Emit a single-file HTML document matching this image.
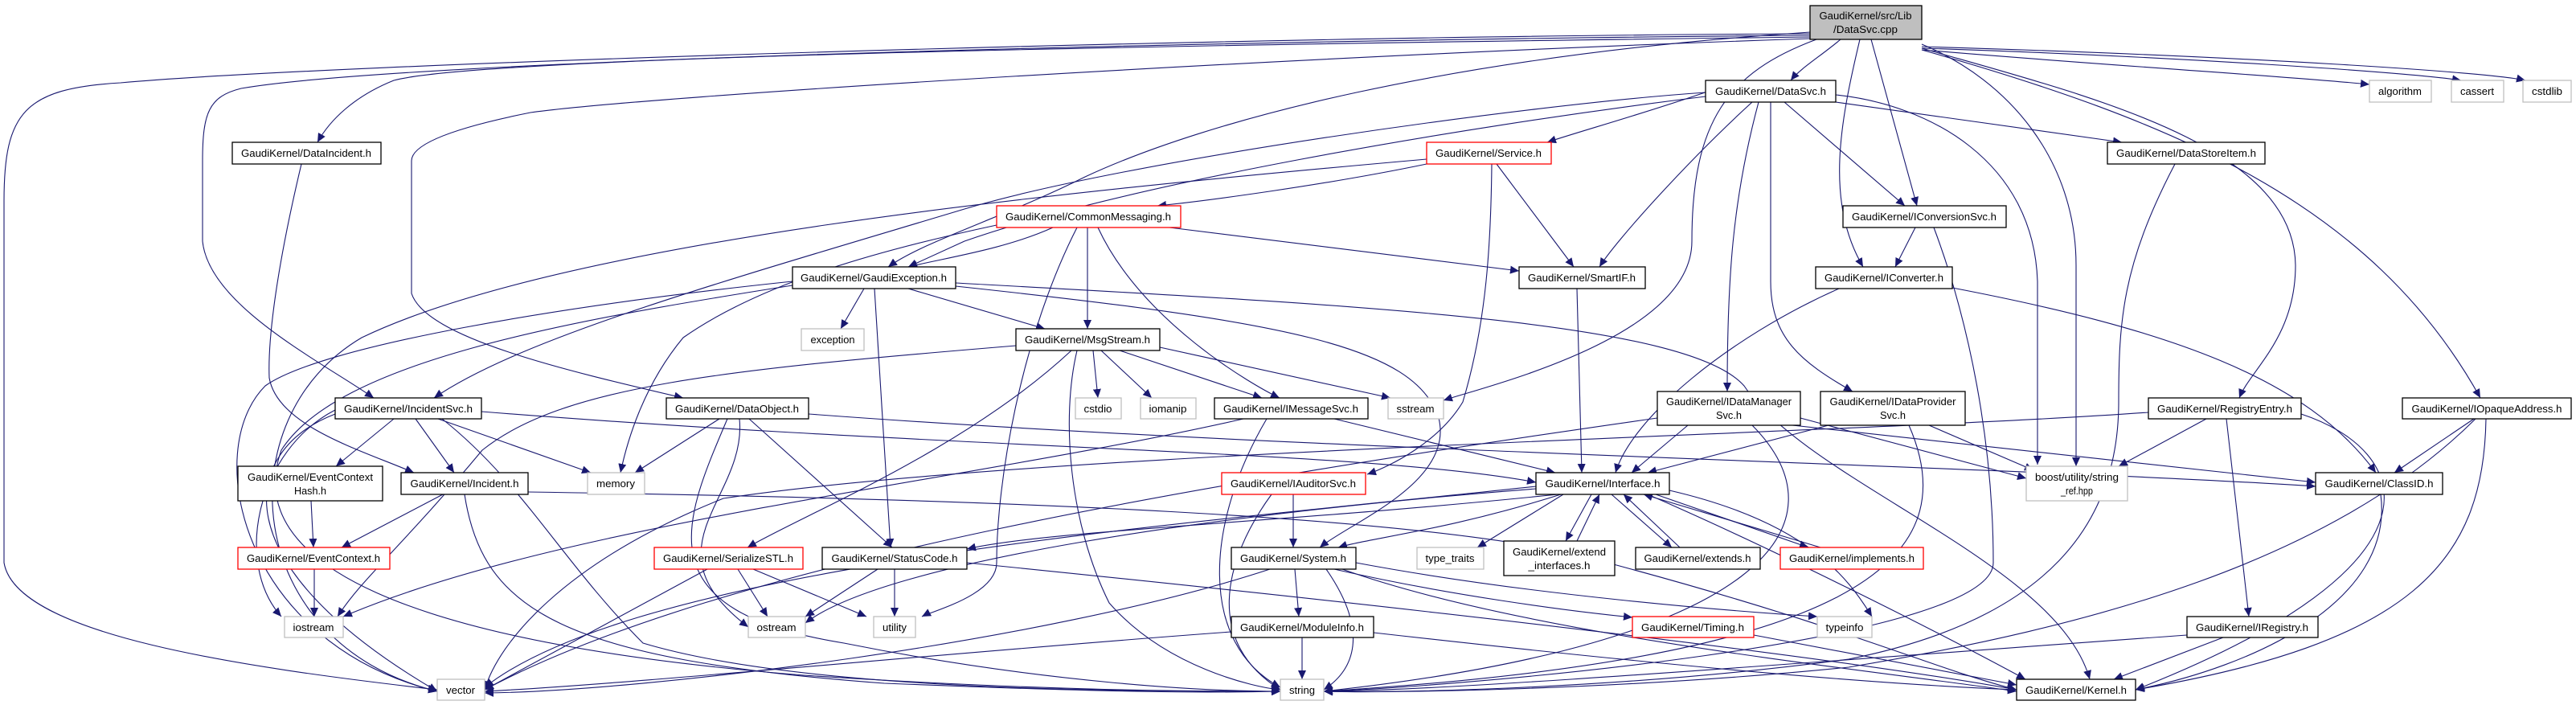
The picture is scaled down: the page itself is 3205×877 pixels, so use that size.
<!DOCTYPE html>
<html><head><meta charset="utf-8"><style>
html,body{margin:0;padding:0;background:#fff;}
svg{display:block;}
text{font-family:"Liberation Sans",sans-serif;font-size:13px;fill:#000;}
.e{fill:none;stroke:#191970;stroke-width:1.1;marker-end:url(#a);}
</style></head><body>
<svg width="3205" height="877" viewBox="0 0 3205 877" xmlns="http://www.w3.org/2000/svg">
<defs><marker id="a" markerWidth="12" markerHeight="10" refX="11" refY="5" orient="auto" markerUnits="userSpaceOnUse"><path d="M0,0 L11,5 L0,10 z" fill="#191970"/></marker></defs>
<g>
<!-- cpp edges -->
<path class="e" d="M2290,49 C2265,70 2240,85 2228,100"/>
<path class="e" d="M2328,49 L2385,256"/>
<path class="e" d="M2314,49 C2290,150 2270,250 2318,332"/>
<path class="e" d="M2252,46 C1500,55 600,70 490,100 C440,120 410,150 395,177"/>
<path class="e" d="M2252,44 C1500,50 500,75 300,110 C260,120 252,140 252,200 L252,300 C260,380 400,450 465,495"/>
<path class="e" d="M2252,42 C1500,45 400,80 150,103 C30,110 5,140 5,250 L5,700 C20,790 300,830 544,858"/>
<path class="e" d="M2252,48 C1600,70 800,120 660,140 C560,160 512,180 512,200 L512,365 C530,420 700,460 850,495"/>
<path class="e" d="M2252,40 C1800,70 1500,150 1350,220 C1250,270 1150,300 1105,332"/>
<path class="e" d="M2260,49 C2150,90 2105,150 2105,300 C2105,420 1850,480 1796,498"/>
<path class="e" d="M2391,55 C2500,100 2583,200 2583,330 L2583,580"/>
<path class="e" d="M2391,60 C2600,120 2854,180 2856,330 C2856,420 2800,460 2786,495"/>
<path class="e" d="M2391,62 C2700,150 2950,250 3086,495"/>
<path class="e" d="M2391,62 C2600,80 2850,95 2948,105"/>
<path class="e" d="M2391,60 C2700,70 3000,90 3062,100"/>
<path class="e" d="M2391,58 C2800,70 3100,90 3142,100"/>
<!-- DataSvc.h -->
<path class="e" d="M2130,112 C2050,140 1960,165 1925,177"/>
<path class="e" d="M2122,115 C1900,130 1400,200 1200,260 C900,350 650,420 540,495"/>
<path class="e" d="M2122,120 C1800,160 1400,230 1200,300 L1130,332"/>
<path class="e" d="M2180,127 C2100,200 2010,300 1990,332"/>
<path class="e" d="M2220,127 L2370,256"/>
<path class="e" d="M2188,127 C2155,250 2149,350 2149,487"/>
<path class="e" d="M2203,127 L2203,350 C2203,420 2240,450 2305,487"/>
<path class="e" d="M2284,127 L2640,177"/>
<path class="e" d="M2284,118 C2400,130 2530,200 2535,350 L2535,578"/>
<!-- Service -->
<path class="e" d="M1775,204 C1650,230 1500,250 1440,256"/>
<path class="e" d="M1862,204 L1958,332"/>
<path class="e" d="M1856,204 C1855,300 1850,400 1820,500 C1790,550 1730,580 1701,590"/>
<path class="e" d="M1775,198 C1300,240 700,300 450,420 C280,520 300,800 544,860"/>
<!-- DataIncident -->
<path class="e" d="M375,204 C345,330 333,420 335,470 C345,530 450,560 515,588"/>
<!-- CommonMessaging -->
<path class="e" d="M1310,283 C1250,310 1180,320 1130,332"/>
<path class="e" d="M1353,283 L1353,409"/>
<path class="e" d="M1455,283 L1890,337"/>
<path class="e" d="M1366,283 C1420,400 1560,480 1592,495"/>
<path class="e" d="M1340,283 C1270,420 1240,600 1240,700 C1240,740 1160,760 1147,767"/>
<path class="e" d="M1240,280 C1100,310 950,350 850,420 C800,480 780,550 772,588"/>
<!-- GaudiException -->
<path class="e" d="M1075,359 L1046,409"/>
<path class="e" d="M1130,359 L1300,409"/>
<path class="e" d="M1088,359 L1108,681"/>
<path class="e" d="M1189,352 C1700,380 2100,400 2170,480 C2250,600 2560,700 2600,845"/>
<path class="e" d="M1189,356 C1600,400 1760,430 1790,520 C1810,600 1680,650 1642,681"/>
<path class="e" d="M986,350 C700,380 400,430 330,480 C250,560 300,800 544,860"/>
<path class="e" d="M986,355 C700,400 420,450 350,560 C300,700 500,800 1000,840 C1300,860 1500,860 1593,860"/>
<!-- MsgStream -->
<path class="e" d="M1360,436 L1366,495"/>
<path class="e" d="M1370,436 L1433,495"/>
<path class="e" d="M1393,436 L1570,495"/>
<path class="e" d="M1443,432 L1730,495"/>
<path class="e" d="M1340,436 C1320,520 1330,650 1380,750 C1450,830 1560,855 1593,858"/>
<path class="e" d="M1333,436 C1200,560 1000,640 930,681"/>
<path class="e" d="M1264,430 C900,460 700,480 600,560 C500,680 450,720 420,767"/>
<!-- IncidentSvc -->
<path class="e" d="M490,521 L418,580"/>
<path class="e" d="M517,521 L565,588"/>
<path class="e" d="M545,521 L735,588"/>
<path class="e" d="M550,521 C650,600 700,700 800,800 C1000,860 1400,860 1593,860"/>
<path class="e" d="M417,515 C300,560 270,700 544,860"/>
<path class="e" d="M599,512 C1200,560 1700,560 1911,600"/>
<path class="e" d="M417,510 C320,560 290,700 350,767"/>
<!-- DataObject -->
<path class="e" d="M895,521 L790,588"/>
<path class="e" d="M932,521 L1110,681"/>
<path class="e" d="M920,521 C930,620 800,680 931,780"/>
<path class="e" d="M905,521 C850,650 800,760 1050,800 C1300,850 1500,860 1593,860"/>
<path class="e" d="M1006,515 C1600,560 2500,580 2881,605"/>
<!-- Incident -->
<path class="e" d="M551,615 L425,681"/>
<path class="e" d="M578,615 C600,760 700,820 1100,850 C1400,862 1500,862 1593,860"/>
<path class="e" d="M657,612 C1200,620 1800,640 2000,700 C2300,780 2400,830 2509,858"/>
<path class="e" d="M387,623 L390,681"/>
<path class="e" d="M391,708 L391,767"/>
<!-- IMessageSvc / IAuditorSvc -->
<path class="e" d="M1660,521 L1935,588"/>
<path class="e" d="M1547,521 C1200,600 700,650 427,767"/>
<path class="e" d="M1576,521 C1500,650 1490,800 1593,855"/>
<path class="e" d="M1609,615 L1609,681"/>
<path class="e" d="M1582,615 C1520,700 1500,800 1593,858"/>
<!-- Interface -->
<path class="e" d="M1938,615 C1600,650 1300,660 1203,683"/>
<path class="e" d="M1942,615 C1800,660 1700,670 1665,681"/>
<path class="e" d="M1945,615 L1838,681"/>
<path class="e" d="M1980,615 L1948,673"/>
<path class="e" d="M1962,673 L1990,615"/>
<path class="e" d="M2005,615 L2080,681"/>
<path class="e" d="M2090,681 L2020,615"/>
<path class="e" d="M2060,615 L2250,681"/>
<path class="e" d="M2265,681 L2045,615"/>
<path class="e" d="M1911,608 C1500,640 1100,700 1002,775"/>
<path class="e" d="M1911,605 C1500,650 800,700 603,855"/>
<path class="e" d="M2077,610 C2250,650 2300,720 2329,767"/>
<path class="e" d="M2050,615 C2200,680 2400,780 2520,845"/>
<path class="e" d="M1962,359 L1968,588"/>
<path class="e" d="M2288,359 C2150,420 2030,520 2010,588"/>
<path class="e" d="M2429,358 C2700,410 2870,470 2956,588"/>
<path class="e" d="M2383,283 L2358,332"/>
<path class="e" d="M2406,283 C2450,400 2480,550 2480,700 C2480,800 1800,855 1647,860"/>
<path class="e" d="M2706,204 C2640,330 2636,400 2636,500 C2636,650 2550,770 2300,820 C2000,860 1700,862 1647,860"/>
<!-- IDataManager / Provider -->
<path class="e" d="M2100,529 L2030,588"/>
<path class="e" d="M2230,529 L2881,600"/>
<path class="e" d="M2240,520 L2521,595"/>
<path class="e" d="M2180,529 C2300,650 2200,800 1647,860"/>
<path class="e" d="M2275,529 L2050,588"/>
<path class="e" d="M2400,529 L2530,585"/>
<path class="e" d="M2375,529 C2450,700 2300,820 1647,860"/>
<path class="e" d="M2062,520 C1500,600 900,700 603,858"/>
<!-- RegistryEntry / IOpaqueAddress / ClassID / IRegistry -->
<path class="e" d="M2745,521 L2636,580"/>
<path class="e" d="M2770,521 L2798,767"/>
<path class="e" d="M2863,515 C3000,560 3060,700 2657,858"/>
<path class="e" d="M2673,513 C2300,540 1300,560 900,620 C700,700 620,800 603,858"/>
<path class="e" d="M3078,521 L2979,588"/>
<path class="e" d="M3093,521 C3090,700 3000,800 2657,858"/>
<path class="e" d="M3080,521 C2900,700 2600,780 2300,830 C2000,860 1700,862 1647,860"/>
<path class="e" d="M2962,615 C2980,750 2800,830 2657,858"/>
<path class="e" d="M2766,793 L2630,845"/>
<path class="e" d="M2721,790 C2300,820 1800,860 1647,860"/>
<!-- StatusCode / System / ModuleInfo / Timing / SerializeSTL -->
<path class="e" d="M1113,708 L1113,767"/>
<path class="e" d="M1092,708 L1002,767"/>
<path class="e" d="M1203,700 C1800,760 2300,820 2509,858"/>
<path class="e" d="M1611,708 L1616,767"/>
<path class="e" d="M1650,708 C1700,780 1690,830 1647,858"/>
<path class="e" d="M1580,708 C1300,800 800,860 603,862"/>
<path class="e" d="M1687,700 C1900,740 2150,760 2261,767"/>
<path class="e" d="M1660,708 C1800,740 1950,760 2031,768"/>
<path class="e" d="M1670,708 C1900,790 2300,830 2509,860"/>
<path class="e" d="M1620,793 L1620,845"/>
<path class="e" d="M1532,786 C1200,810 800,850 603,860"/>
<path class="e" d="M1709,787 C2000,820 2300,850 2509,858"/>
<path class="e" d="M2182,790 L2509,852"/>
<path class="e" d="M918,708 L955,767"/>
<path class="e" d="M937,708 L1078,767"/>
<path class="e" d="M880,708 L603,858"/>
</g>
<g stroke-width="1.3">
<!-- nodes: rect + text -->
<rect x="2252" y="7" width="139" height="42" fill="#bfbfbf" stroke="#000"/>
<text x="2321" y="24" text-anchor="middle" textLength="115" lengthAdjust="spacingAndGlyphs">GaudiKernel/src/Lib</text>
<text x="2321" y="41" text-anchor="middle" textLength="80" lengthAdjust="spacingAndGlyphs">/DataSvc.cpp</text>

<rect x="2122" y="100" width="162" height="27" fill="#fff" stroke="#000"/>
<text x="2203" y="118" text-anchor="middle" textLength="138" lengthAdjust="spacingAndGlyphs">GaudiKernel/DataSvc.h</text>

<rect x="2948" y="100" width="77" height="27" fill="#fff" stroke="#bfbfbf"/>
<text x="2986" y="118" text-anchor="middle" textLength="54" lengthAdjust="spacingAndGlyphs">algorithm</text>
<rect x="3050" y="100" width="65" height="27" fill="#fff" stroke="#bfbfbf"/>
<text x="3082" y="118" text-anchor="middle" textLength="42" lengthAdjust="spacingAndGlyphs">cassert</text>
<rect x="3139" y="100" width="60" height="27" fill="#fff" stroke="#bfbfbf"/>
<text x="3169" y="118" text-anchor="middle" textLength="38" lengthAdjust="spacingAndGlyphs">cstdlib</text>

<rect x="289" y="177" width="185" height="27" fill="#fff" stroke="#000"/>
<text x="381" y="195" text-anchor="middle" textLength="162" lengthAdjust="spacingAndGlyphs">GaudiKernel/DataIncident.h</text>
<rect x="1775" y="177" width="155" height="27" fill="#fff" stroke="#f00"/>
<text x="1852" y="195" text-anchor="middle" textLength="132" lengthAdjust="spacingAndGlyphs">GaudiKernel/Service.h</text>
<rect x="2622" y="177" width="196" height="27" fill="#fff" stroke="#000"/>
<text x="2720" y="195" text-anchor="middle" textLength="174" lengthAdjust="spacingAndGlyphs">GaudiKernel/DataStoreItem.h</text>

<rect x="1240" y="256" width="229" height="27" fill="#fff" stroke="#f00"/>
<text x="1354" y="274" text-anchor="middle" textLength="206" lengthAdjust="spacingAndGlyphs">GaudiKernel/CommonMessaging.h</text>
<rect x="2293" y="256" width="203" height="27" fill="#fff" stroke="#000"/>
<text x="2394" y="274" text-anchor="middle" textLength="180" lengthAdjust="spacingAndGlyphs">GaudiKernel/IConversionSvc.h</text>

<rect x="986" y="332" width="203" height="27" fill="#fff" stroke="#000"/>
<text x="1087" y="350" text-anchor="middle" textLength="182" lengthAdjust="spacingAndGlyphs">GaudiKernel/GaudiException.h</text>
<rect x="1890" y="332" width="157" height="27" fill="#fff" stroke="#000"/>
<text x="1968" y="350" text-anchor="middle" textLength="134" lengthAdjust="spacingAndGlyphs">GaudiKernel/SmartIF.h</text>
<rect x="2259" y="332" width="170" height="27" fill="#fff" stroke="#000"/>
<text x="2344" y="350" text-anchor="middle" textLength="148" lengthAdjust="spacingAndGlyphs">GaudiKernel/IConverter.h</text>

<rect x="997" y="409" width="78" height="27" fill="#fff" stroke="#bfbfbf"/>
<text x="1036" y="427" text-anchor="middle" textLength="55" lengthAdjust="spacingAndGlyphs">exception</text>
<rect x="1264" y="409" width="179" height="27" fill="#fff" stroke="#000"/>
<text x="1353" y="427" text-anchor="middle" textLength="156" lengthAdjust="spacingAndGlyphs">GaudiKernel/MsgStream.h</text>

<rect x="417" y="495" width="182" height="26" fill="#fff" stroke="#000"/>
<text x="508" y="513" text-anchor="middle" textLength="160" lengthAdjust="spacingAndGlyphs">GaudiKernel/IncidentSvc.h</text>
<rect x="829" y="495" width="177" height="26" fill="#fff" stroke="#000"/>
<text x="917" y="513" text-anchor="middle" textLength="154" lengthAdjust="spacingAndGlyphs">GaudiKernel/DataObject.h</text>
<rect x="1338" y="495" width="57" height="26" fill="#fff" stroke="#bfbfbf"/>
<text x="1366" y="513" text-anchor="middle" textLength="35" lengthAdjust="spacingAndGlyphs">cstdio</text>
<rect x="1419" y="495" width="69" height="26" fill="#fff" stroke="#bfbfbf"/>
<text x="1453" y="513" text-anchor="middle" textLength="47" lengthAdjust="spacingAndGlyphs">iomanip</text>
<rect x="1511" y="495" width="191" height="26" fill="#fff" stroke="#000"/>
<text x="1606" y="513" text-anchor="middle" textLength="168" lengthAdjust="spacingAndGlyphs">GaudiKernel/IMessageSvc.h</text>
<rect x="1727" y="495" width="69" height="26" fill="#fff" stroke="#bfbfbf"/>
<text x="1761" y="513" text-anchor="middle" textLength="47" lengthAdjust="spacingAndGlyphs">sstream</text>
<rect x="2062" y="487" width="178" height="42" fill="#fff" stroke="#000"/>
<text x="2151" y="504" text-anchor="middle" textLength="156" lengthAdjust="spacingAndGlyphs">GaudiKernel/IDataManager</text>
<text x="2151" y="521" text-anchor="middle" textLength="32" lengthAdjust="spacingAndGlyphs">Svc.h</text>
<rect x="2265" y="487" width="180" height="42" fill="#fff" stroke="#000"/>
<text x="2355" y="504" text-anchor="middle" textLength="157" lengthAdjust="spacingAndGlyphs">GaudiKernel/IDataProvider</text>
<text x="2355" y="521" text-anchor="middle" textLength="32" lengthAdjust="spacingAndGlyphs">Svc.h</text>
<rect x="2673" y="495" width="190" height="26" fill="#fff" stroke="#000"/>
<text x="2768" y="513" text-anchor="middle" textLength="168" lengthAdjust="spacingAndGlyphs">GaudiKernel/RegistryEntry.h</text>
<rect x="2989" y="495" width="210" height="26" fill="#fff" stroke="#000"/>
<text x="3094" y="513" text-anchor="middle" textLength="187" lengthAdjust="spacingAndGlyphs">GaudiKernel/IOpaqueAddress.h</text>

<rect x="296" y="580" width="180" height="43" fill="#fff" stroke="#000"/>
<text x="386" y="598" text-anchor="middle" textLength="156" lengthAdjust="spacingAndGlyphs">GaudiKernel/EventContext</text>
<text x="386" y="615" text-anchor="middle" textLength="40" lengthAdjust="spacingAndGlyphs">Hash.h</text>
<rect x="499" y="588" width="158" height="27" fill="#fff" stroke="#000"/>
<text x="578" y="606" text-anchor="middle" textLength="135" lengthAdjust="spacingAndGlyphs">GaudiKernel/Incident.h</text>
<rect x="731" y="588" width="71" height="27" fill="#fff" stroke="#bfbfbf"/>
<text x="766" y="606" text-anchor="middle" textLength="48" lengthAdjust="spacingAndGlyphs">memory</text>
<rect x="1520" y="588" width="179" height="27" fill="#fff" stroke="#f00"/>
<text x="1609" y="606" text-anchor="middle" textLength="156" lengthAdjust="spacingAndGlyphs">GaudiKernel/IAuditorSvc.h</text>
<rect x="1911" y="588" width="166" height="27" fill="#fff" stroke="#000"/>
<text x="1994" y="606" text-anchor="middle" textLength="143" lengthAdjust="spacingAndGlyphs">GaudiKernel/Interface.h</text>
<rect x="2521" y="580" width="126" height="43" fill="#fff" stroke="#bfbfbf"/>
<text x="2584" y="598" text-anchor="middle" textLength="104" lengthAdjust="spacingAndGlyphs">boost/utility/string</text>
<text x="2584" y="615" text-anchor="middle" textLength="40" lengthAdjust="spacingAndGlyphs">_ref.hpp</text>
<rect x="2881" y="588" width="158" height="27" fill="#fff" stroke="#000"/>
<text x="2960" y="606" text-anchor="middle" textLength="135" lengthAdjust="spacingAndGlyphs">GaudiKernel/ClassID.h</text>

<rect x="296" y="681" width="189" height="27" fill="#fff" stroke="#f00"/>
<text x="390" y="699" text-anchor="middle" textLength="166" lengthAdjust="spacingAndGlyphs">GaudiKernel/EventContext.h</text>
<rect x="814" y="681" width="185" height="27" fill="#fff" stroke="#f00"/>
<text x="906" y="699" text-anchor="middle" textLength="162" lengthAdjust="spacingAndGlyphs">GaudiKernel/SerializeSTL.h</text>
<rect x="1023" y="681" width="180" height="27" fill="#fff" stroke="#000"/>
<text x="1113" y="699" text-anchor="middle" textLength="157" lengthAdjust="spacingAndGlyphs">GaudiKernel/StatusCode.h</text>
<rect x="1532" y="681" width="155" height="27" fill="#fff" stroke="#000"/>
<text x="1609" y="699" text-anchor="middle" textLength="132" lengthAdjust="spacingAndGlyphs">GaudiKernel/System.h</text>
<rect x="1763" y="681" width="83" height="27" fill="#fff" stroke="#bfbfbf"/>
<text x="1804" y="699" text-anchor="middle" textLength="61" lengthAdjust="spacingAndGlyphs">type_traits</text>
<rect x="1871" y="673" width="138" height="43" fill="#fff" stroke="#000"/>
<text x="1940" y="691" text-anchor="middle" textLength="116" lengthAdjust="spacingAndGlyphs">GaudiKernel/extend</text>
<text x="1940" y="708" text-anchor="middle" textLength="77" lengthAdjust="spacingAndGlyphs">_interfaces.h</text>
<rect x="2035" y="681" width="155" height="27" fill="#fff" stroke="#000"/>
<text x="2112" y="699" text-anchor="middle" textLength="133" lengthAdjust="spacingAndGlyphs">GaudiKernel/extends.h</text>
<rect x="2215" y="681" width="178" height="27" fill="#fff" stroke="#f00"/>
<text x="2304" y="699" text-anchor="middle" textLength="156" lengthAdjust="spacingAndGlyphs">GaudiKernel/implements.h</text>

<rect x="354" y="767" width="73" height="26" fill="#fff" stroke="#bfbfbf"/>
<text x="390" y="785" text-anchor="middle" textLength="51" lengthAdjust="spacingAndGlyphs">iostream</text>
<rect x="931" y="767" width="71" height="26" fill="#fff" stroke="#bfbfbf"/>
<text x="966" y="785" text-anchor="middle" textLength="49" lengthAdjust="spacingAndGlyphs">ostream</text>
<rect x="1087" y="767" width="52" height="26" fill="#fff" stroke="#bfbfbf"/>
<text x="1113" y="785" text-anchor="middle" textLength="30" lengthAdjust="spacingAndGlyphs">utility</text>
<rect x="1532" y="767" width="177" height="26" fill="#fff" stroke="#000"/>
<text x="1620" y="785" text-anchor="middle" textLength="154" lengthAdjust="spacingAndGlyphs">GaudiKernel/ModuleInfo.h</text>
<rect x="2031" y="767" width="151" height="26" fill="#fff" stroke="#f00"/>
<text x="2106" y="785" text-anchor="middle" textLength="128" lengthAdjust="spacingAndGlyphs">GaudiKernel/Timing.h</text>
<rect x="2261" y="767" width="68" height="26" fill="#fff" stroke="#bfbfbf"/>
<text x="2295" y="785" text-anchor="middle" textLength="47" lengthAdjust="spacingAndGlyphs">typeinfo</text>
<rect x="2721" y="767" width="163" height="26" fill="#fff" stroke="#000"/>
<text x="2802" y="785" text-anchor="middle" textLength="140" lengthAdjust="spacingAndGlyphs">GaudiKernel/IRegistry.h</text>

<rect x="544" y="845" width="59" height="26" fill="#fff" stroke="#bfbfbf"/>
<text x="573" y="863" text-anchor="middle" textLength="36" lengthAdjust="spacingAndGlyphs">vector</text>
<rect x="1593" y="845" width="54" height="26" fill="#fff" stroke="#bfbfbf"/>
<text x="1620" y="863" text-anchor="middle" textLength="32" lengthAdjust="spacingAndGlyphs">string</text>
<rect x="2509" y="845" width="148" height="26" fill="#fff" stroke="#000"/>
<text x="2583" y="863" text-anchor="middle" textLength="126" lengthAdjust="spacingAndGlyphs">GaudiKernel/Kernel.h</text>
</g>
</svg>
</body></html>
